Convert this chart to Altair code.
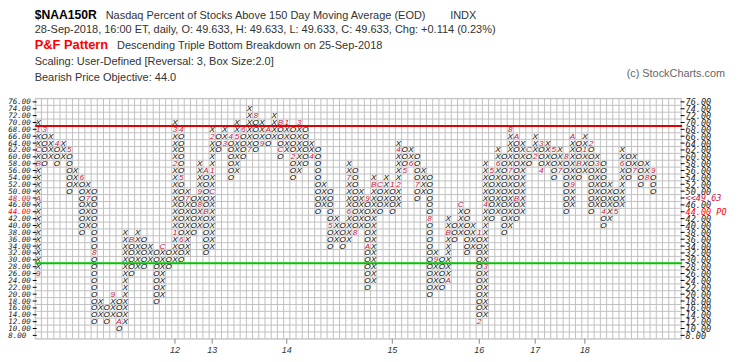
import altair as alt
import pandas as pd

# ---- Point & Figure columns (box size 2.0, reversal 3) ----
col_type = ["X","O","X","O","X","O","X","O","X","O",
            "X","O","X","O","X","O","X","O","X","O",
            "X","O","X","O","X","O","X","O","X","O",
            "X","O","X","O","X","O","X","O","X","O",
            "X","O","X","O","X","O","X","O","X","O",
            "X","O","X","O","X","O","X","O","X","O",
            "X","O","X","O","X","O","X","O","X","O",
            "X","O","X","O","X","O","X","O","X","O",
            "X","O","X","O","X","O","X","O","X","O",
            "X","O","X","O","X","O","X","O","X","O"]
col_low = [26,58,60,58,60,50,52,38,40,12,
           14,12,14,10,12,26,28,28,30,18,
           20,28,30,30,32,38,40,32,34,62,
           64,54,56,60,62,62,64,64,66,60,
           62,54,56,58,60,44,46,34,36,34,
           36,38,40,22,24,44,46,44,46,56,
           58,48,50,20,22,22,24,36,38,32,
           34,12,14,42,44,38,40,42,44,58,
           60,56,58,54,56,44,46,54,56,44,
           46,40,42,44,46,54,56,52,54,50]
col_high = [70,68,66,64,64,62,56,54,52,50,
            18,16,20,18,38,36,38,36,34,32,
            34,32,70,68,50,48,58,56,68,66,
            68,66,70,68,74,72,70,68,72,70,
            70,68,70,68,64,62,52,50,42,40,
            58,56,50,48,54,52,54,52,64,62,
            62,60,56,54,32,30,42,40,46,44,
            40,38,58,56,62,60,68,66,64,62,
            66,64,64,62,62,60,66,64,66,64,
            60,58,52,50,62,60,60,58,58,56]

# month markers (column, box, label)
mark_col = [0,0,0,0,0, 1,3,5,7,8,9,12,13,15,20,
            22,22,22,23,23,23,24,26,26,27,27,28,
            28,28,30,31,32,33,34,35,36,37,39,39,
            40,41,42,44,47,50,50,51,53,53,54,55,
            57,58,58,59,60,61,63,64,66,66,68,
            71,71,72,72,73,74,76,76,77,77,79,
            80,81,81,83,84,85,86,86,87,
            88,89,90,91,93,94,96,98,99]
mark_val = [26,48,58,62,68, 68,64,62,54,48,32,20,12,36,34,
            38,58,68,68,54,36,48,46,50,56,44,50,
            56,66,64,66,66,68,62,72,64,68,70,62,
            70,60,70,60,40,44,54,38,48,34,52,52,
            52,52,62,56,58,52,42,30,24,38,46,
            38,12,28,46,56,58,56,68,66,48,62,
            60,64,56,62,56,60,52,66,58,
            62,64,58,44,44,58,56,54,56]
mark_txt = ["9","A","B","C","1", "3","4","5","6","7","8","9","A","B","C",
            "1","2","3","4","5","6","7","8","9","A","B","C",
            "1","2","3","4","5","6","7","8","9","A","B","C",
            "1","2","3","4","5","6","7","8","9","A","B","C",
            "1","2","4","5","6","7","8","9","A","B","C",
            "1","2","3","4","5","6","7","8","A","B","C",
            "2","3","4","5","7","8","9","A","B",
            "1","2","3","4","5","6","7","8","9"]

row_values = [76,74,72,70,68,66,64,62,60,58,56,54,52,50,48,46,44,42,
              40,38,36,34,32,30,28,26,24,22,20,18,16,14,12,10,8]
year_cols = [22, 28, 40, 57, 71, 80, 88]
year_labels = ["12", "13", "14", "15", "16", "17", "18"]
resistance_level = 69
support_level = 29
last_close_label = "<<49.63"
objective_label = "44.00 PO"

CRIMSON = "#c8143c"
RED = "#ff0000"
GRID = "#c0c0c0"
W, H = 653, 243
N_COLS = 104

xs = alt.Scale(domain=[-0.5, N_COLS - 0.5], nice=False, zero=False)
ys = alt.Scale(domain=[7, 77], nice=False, zero=False)

# ---- tables ----
mk = {(c, v): t for c, v, t in zip(mark_col, mark_val, mark_txt)}
cells = []
for k, (t, lo, hi) in enumerate(zip(col_type, col_low, col_high)):
    for v in range(lo, hi + 1, 2):
        if (k, v) in mk:
            cells.append({"col": k, "val": v, "txt": mk[(k, v)], "clr": CRIMSON})
        else:
            cells.append({"col": k, "val": v, "txt": t, "clr": "#000000"})
cells = pd.DataFrame(cells)

gridx = pd.DataFrame({"gx": [k - 0.5 for k in range(N_COLS + 1)]})
gridy = pd.DataFrame({"gy": [v - 1 for v in row_values] + [row_values[0] + 1]})

left_rows = []
right_rows = []
for v in row_values:
    lt, lc = f"{v:.2f}", "#222222"
    rt, rc = f"{v:.2f}", "#222222"
    if v == 48:
        lc = CRIMSON
        rt, rc = last_close_label, CRIMSON
    if v == 44:
        lc = RED
        rt, rc = objective_label, RED
    left_rows.append({"val": v, "txt": lt, "clr": lc})
    right_rows.append({"val": v, "txt": rt, "clr": rc})
left_df = pd.DataFrame(left_rows)
right_df = pd.DataFrame(right_rows)
years_df = pd.DataFrame({"col": year_cols, "lab": year_labels})
levels_df = pd.DataFrame({"lvl": [resistance_level, support_level],
                          "clr": ["#e00000", "#00c800"]})

base = alt.Chart(cells)

vgrid = alt.Chart(gridx).mark_rule(color=GRID, strokeWidth=1).encode(
    x=alt.X("gx:Q", scale=xs, axis=None), y=alt.value(0), y2=alt.value(H))
hgrid = alt.Chart(gridy).mark_rule(color=GRID, strokeWidth=1).encode(
    y=alt.Y("gy:Q", scale=ys, axis=None), x=alt.value(0), x2=alt.value(W))
levels = alt.Chart(levels_df).mark_rule(strokeWidth=2).encode(
    y=alt.Y("lvl:Q", scale=ys, axis=None), x=alt.value(0), x2=alt.value(W + 1),
    color=alt.Color("clr:N", scale=None))

boxes = base.mark_text(font="Liberation Sans", fontSize=8.2, fontStyle="italic",
                       align="center", baseline="middle", dy=0.5).encode(
    x=alt.X("col:Q", scale=xs, axis=None),
    y=alt.Y("val:Q", scale=ys, axis=None),
    text="txt:N",
    color=alt.Color("clr:N", scale=None))

lticks = alt.Chart(left_df).mark_rule(color="#000000", strokeWidth=1).encode(
    y=alt.Y("val:Q", scale=ys, axis=None), x=alt.value(-2.5), x2=alt.value(1.5))
rticks = alt.Chart(right_df).mark_rule(color="#000000", strokeWidth=1).encode(
    y=alt.Y("val:Q", scale=ys, axis=None), x=alt.value(W - 0.5), x2=alt.value(W + 3.5))
llabels = alt.Chart(left_df).mark_text(font="DejaVu Sans Mono", fontSize=7.6,
                                        fontStyle="italic", align="left",
                                        baseline="middle", dy=0.5).encode(
    y=alt.Y("val:Q", scale=ys, axis=None), x=alt.value(-27.3), text="txt:N",
    color=alt.Color("clr:N", scale=None))
rlabels = alt.Chart(right_df).mark_text(font="DejaVu Sans Mono", fontSize=8.6,
                                         fontStyle="italic", align="left",
                                         baseline="middle", dy=0.5).encode(
    y=alt.Y("val:Q", scale=ys, axis=None), x=alt.value(W + 4.5), text="txt:N",
    color=alt.Color("clr:N", scale=None))
yticks = alt.Chart(years_df).mark_rule(color="#888888", strokeWidth=1).encode(
    x=alt.X("col:Q", scale=xs, axis=None), y=alt.value(H), y2=alt.value(H + 5))
ylabels = alt.Chart(years_df).mark_text(font="Liberation Sans", fontSize=9,
                                         fontStyle="italic", align="center",
                                         baseline="alphabetic", color="#333333").encode(
    x=alt.X("col:Q", scale=xs, axis=None), y=alt.value(H + 14), text="lab:N")

# ---- header texts ----
def txt(s, x, y, size, color="#333333", weight="normal", align="left"):
    return alt.Chart(pd.DataFrame({"t": [s]})).mark_text(
        font="Liberation Sans", fontSize=size, fontWeight=weight, color=color,
        align=align, baseline="alphabetic").encode(
        x=alt.value(x), y=alt.value(y), text="t:N")

FS = 11.1
hdr = [
    txt("$NAA150R", -0.5, -80.8, 12.3, "#000000", "bold"),
    txt("Nasdaq Percent of Stocks Above 150 Day Moving Average (EOD)", 71.2, -80.8, FS),
    txt("INDX", 419.5, -80.8, FS),
    txt("28-Sep-2018, 16:00 ET, daily, O: 49.633, H: 49.633, L: 49.633, C: 49.633, Chg: +0.114 (0.23%)",
        -0.5, -65.8, FS),
    txt("P&F Pattern", -0.5, -49.8, 13, RED, "bold"),
    txt("Descending Triple Bottom Breakdown on 25-Sep-2018", 82.8, -49.8, FS),
    txt("Scaling: User-Defined [Reversal: 3, Box Size:2.0]", -0.5, -33.5, FS),
    txt("Bearish Price Objective: 44.0", -0.5, -17.5, FS),
    txt("(c) StockCharts.com", 697.5, -21.5, 11, "#666666", "normal", "right"),
]

chart = alt.layer(vgrid, hgrid, levels, boxes, lticks, rticks, llabels, rlabels,
                  yticks, ylabels, *hdr).properties(
    width=W, height=H,
    padding={"left": 27.5, "top": 89.5, "right": 56.5, "bottom": 21.5},
    autosize=alt.AutoSizeParams(type="none"),
).configure_view(stroke=None).configure(background="#ffffff")

chart.save("out.html", embed_options={"renderer": "svg", "actions": False})
